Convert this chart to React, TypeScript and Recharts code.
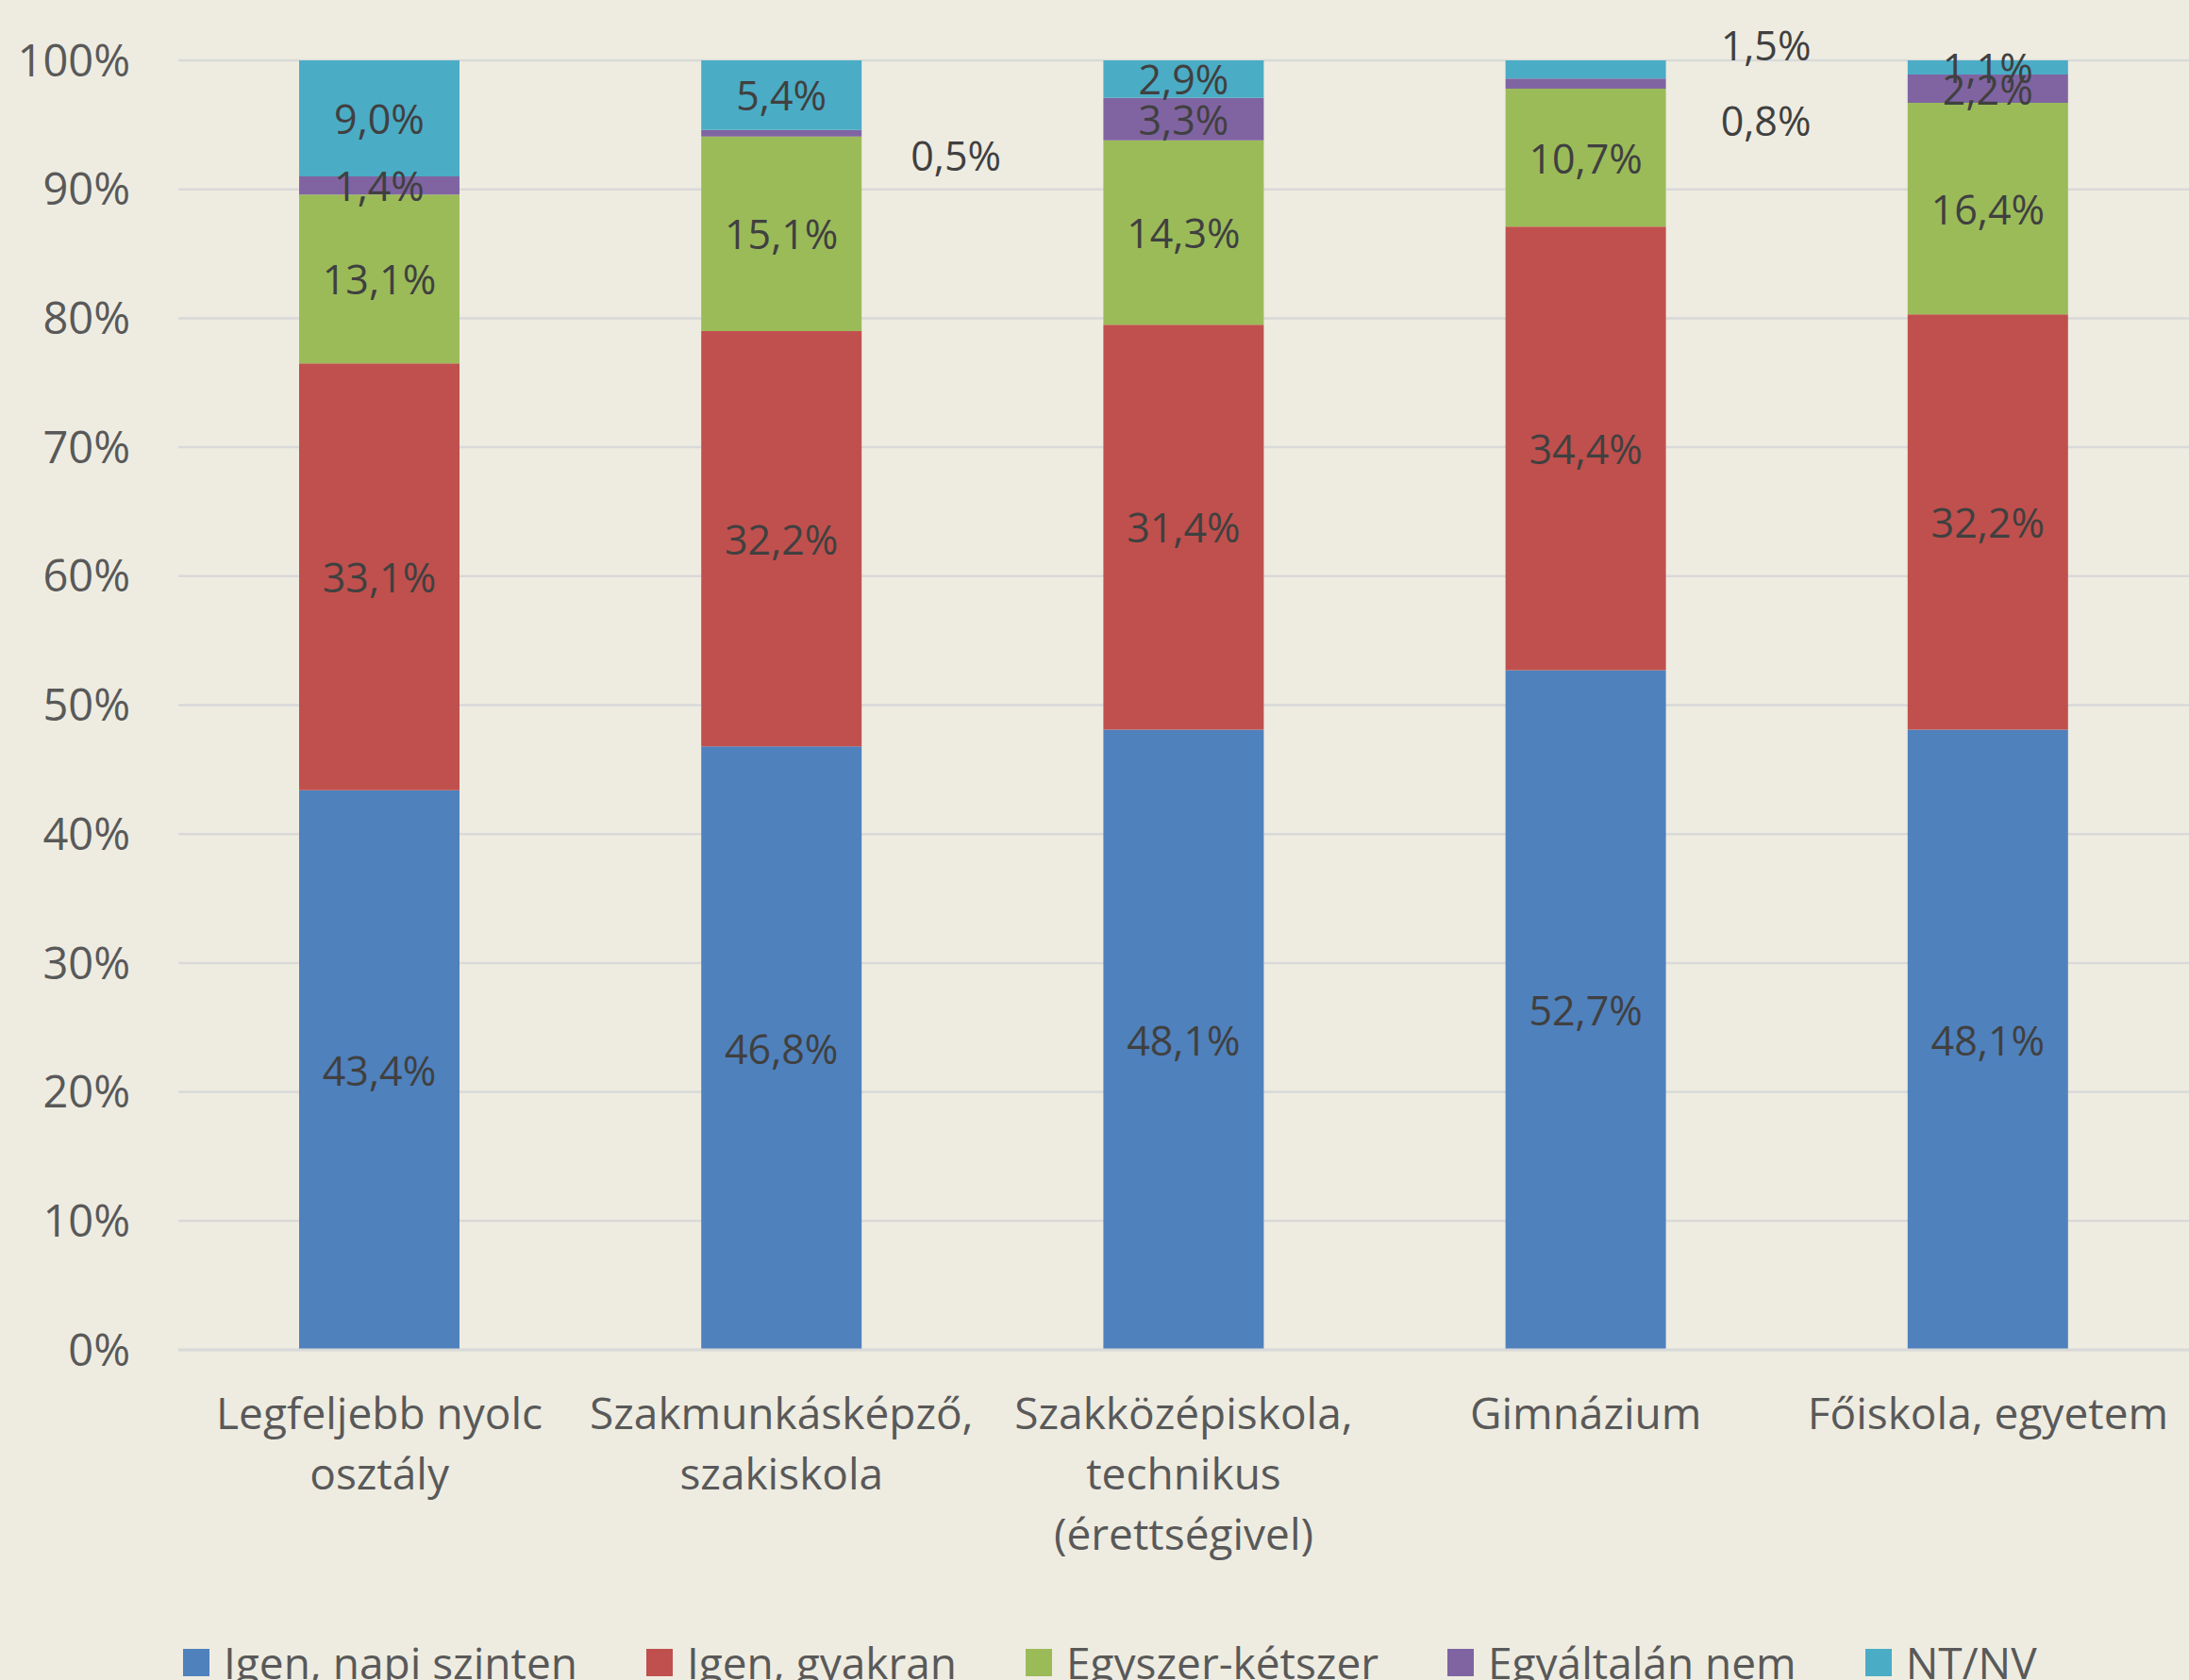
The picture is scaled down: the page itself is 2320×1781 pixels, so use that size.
import { BarChart, Bar, XAxis, YAxis, CartesianGrid, Legend, LabelList } from "recharts"

const categories = [
  "Legfeljebb nyolc\nosztály",
  "Szakmunkásképző,\nszakiskola",
  "Szakközépiskola,\ntechnikus\n(érettségivel)",
  "Gimnázium",
  "Főiskola, egyetem",
]
const napiSzinten = [43.4, 46.8, 48.1, 52.7, 48.1]
const gyakran = [33.1, 32.2, 31.4, 34.4, 32.2]
const egyszerKetszer = [13.1, 15.1, 14.3, 10.7, 16.4]
const egyaltalanNem = [1.4, 0.5, 3.3, 0.8, 2.2]
const ntNv = [9.0, 5.4, 2.9, 1.5, 1.1]
const yTicks = [0, 10, 20, 30, 40, 50, 60, 70, 80, 90, 100]

const series = [
  { key: "napi", name: "Igen, napi szinten", color: "#4f81bd" },
  { key: "gyakran", name: "Igen, gyakran", color: "#c0504d" },
  { key: "egyszer", name: "Egyszer-kétszer", color: "#9bbb59" },
  { key: "nem", name: "Egyáltalán nem", color: "#8064a2" },
  { key: "nt", name: "NT/NV", color: "#4bacc6" },
]

const data = categories.map((cat, i) => ({
  cat,
  napi: napiSzinten[i],
  gyakran: gyakran[i],
  egyszer: egyszerKetszer[i],
  nem: egyaltalanNem[i],
  nt: ntNv[i],
}))

// labels that were dragged out of their (too thin) segments in the original
const labelShift: Record<string, Record<number, [number, number]>> = {
  nem: { 1: [185, 23], 3: [191, 39] },
  nt: { 3: [191, -26] },
}

const FONT = "'Open Sans', sans-serif"
const fmt = (v: number) => `${v.toFixed(1).replace(".", ",")}%`

const makeLabel = (key: string) => (props: any) => {
  const { x, y, width, height, value, index } = props
  const [dx, dy] = labelShift[key]?.[index] ?? [0, 0]
  return (
    <text
      x={Number(x) + Number(width) / 2 + dx}
      y={Number(y) + Number(height) / 2 + dy}
      textAnchor="middle"
      dominantBaseline="central"
      fontFamily={FONT}
      fontSize={43}
      fill="#404040"
    >
      {fmt(Number(value))}
    </text>
  )
}

const CategoryTick = (props: any) => {
  const { x, y, payload } = props
  const lines = String(payload.value).split("\n")
  return (
    <text x={x} y={y} textAnchor="middle" fontFamily={FONT} fontSize={46} fill="#595959">
      {lines.map((l, i) => (
        <tspan key={i} x={x} dy={i === 0 ? 84 : 64}>
          {l}
        </tspan>
      ))}
    </text>
  )
}

const LegendContent = () => (
  <div style={{ display: "flex", paddingLeft: 194, fontFamily: FONT, fontSize: 46, color: "#595959", lineHeight: "50px" }}>
    {series.map((s) => (
      <div key={s.key} style={{ display: "flex", alignItems: "center", marginRight: 73 }}>
        <span style={{ width: 28, height: 29, background: s.color, marginRight: 15, display: "inline-block" }} />
        <span>{s.name}</span>
      </div>
    ))}
  </div>
)

export default function App() {
  return (
    <div style={{ position: "absolute", left: 0, top: 0, width: 2320, height: 1781, background: "#eeece1", overflow: "hidden" }}>
      <BarChart
        width={2320}
        height={1781}
        data={data}
        margin={{ top: 64, right: 0, left: 0, bottom: 0 }}
      >
        <CartesianGrid vertical={false} stroke="#d9d9d9" strokeWidth={2.5} />
        <XAxis
          dataKey="cat"
          height={350}
          tick={<CategoryTick />}
          tickLine={false}
          tickSize={0}
          tickMargin={0}
          interval={0}
          axisLine={{ stroke: "#d9d9d9", strokeWidth: 3 }}
        />
        <YAxis
          width={189}
          domain={[0, 100]}
          ticks={yTicks}
          allowDataOverflow
          axisLine={false}
          tickLine={false}
          tickSize={0}
          tickMargin={51}
          tickFormatter={(v) => `${v}%`}
          tick={{ fill: "#595959", fontSize: 47, fontFamily: FONT }}
        />
        <Legend
          layout="horizontal"
          verticalAlign="middle"
          align="center"
          content={<LegendContent />}
          wrapperStyle={{ top: 1737, left: 0, width: 2320 }}
        />
        {series.map((s) => (
          <Bar key={s.key} dataKey={s.key} name={s.name} stackId="a" fill={s.color} barSize={170} isAnimationActive={false}>
            <LabelList dataKey={s.key} content={makeLabel(s.key)} />
          </Bar>
        ))}
      </BarChart>
    </div>
  )
}
